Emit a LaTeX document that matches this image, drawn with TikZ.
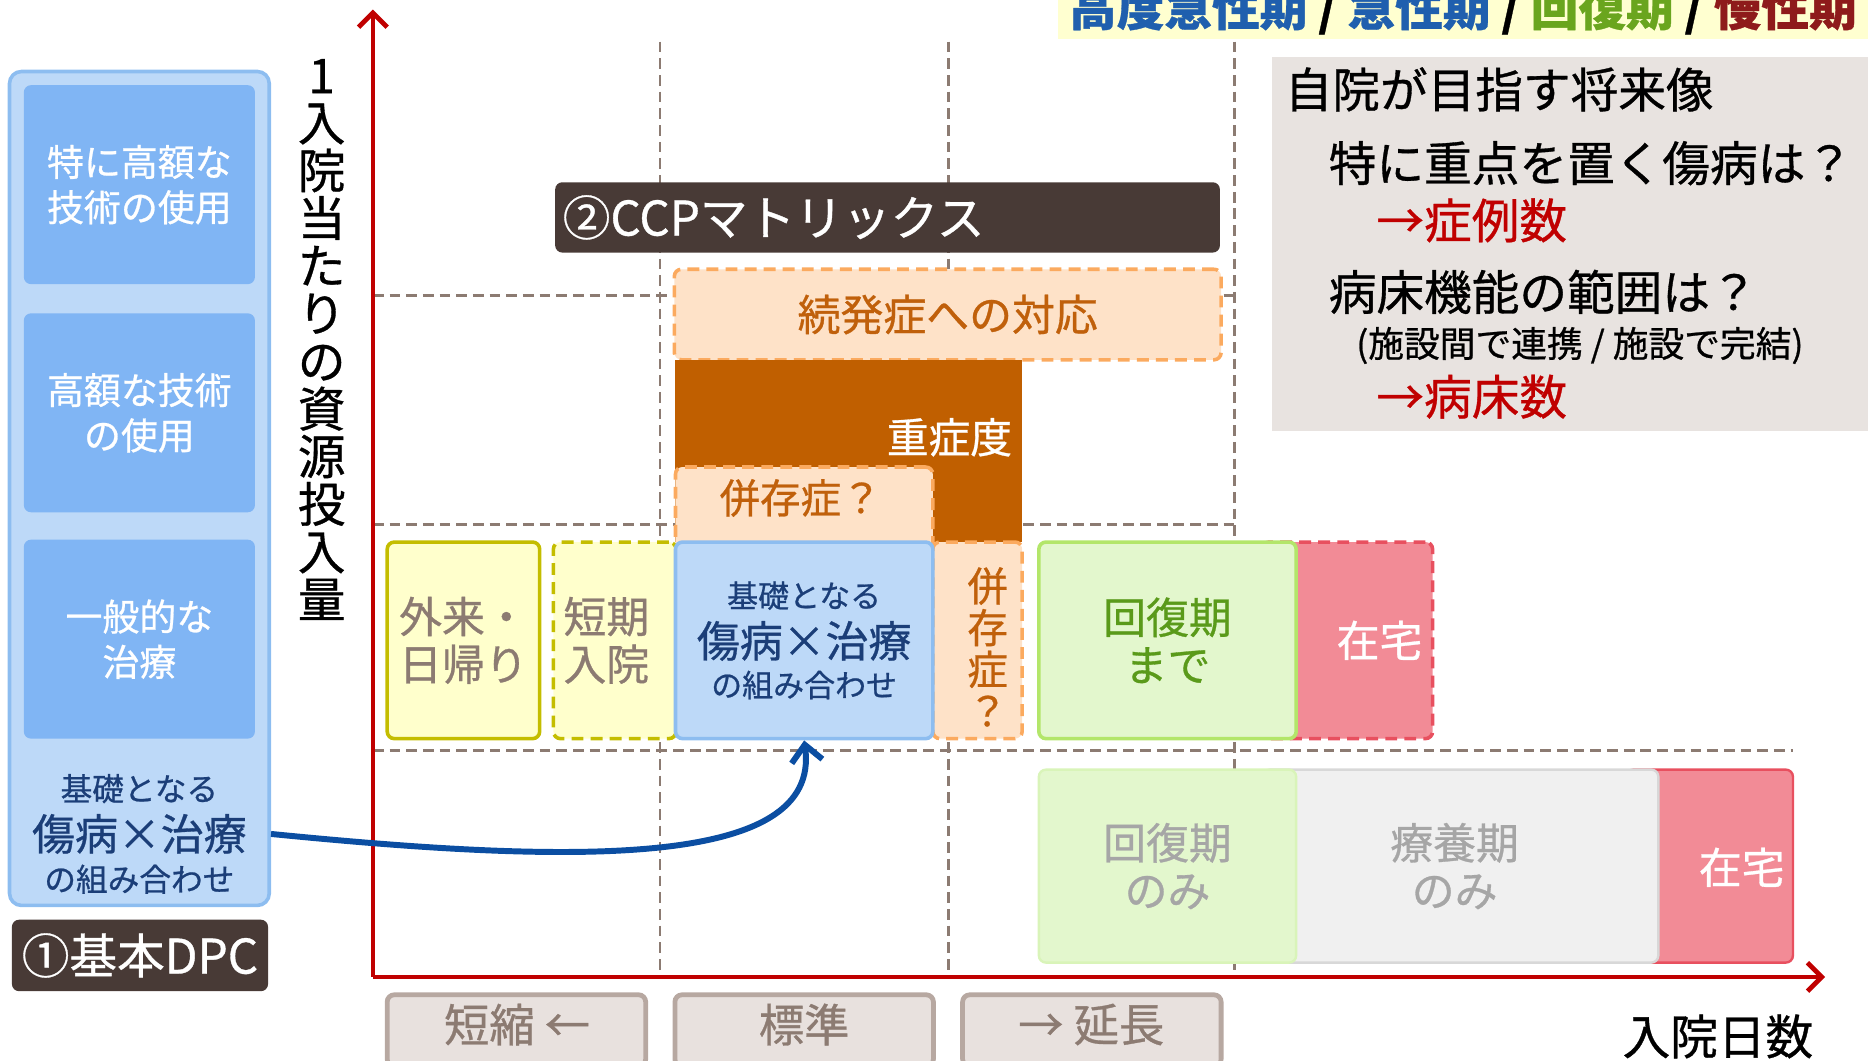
\documentclass[tikz,border=0pt]{standalone}
\usepackage{fontspec}
\setmainfont{Noto Sans CJK JP}[FakeBold=0.7]
\usepackage{xcolor}
\usetikzlibrary{arrows.meta, positioning, calc}

\definecolor{axisred}{HTML}{C00000}
\definecolor{gridc}{HTML}{8C7B72}
\definecolor{panelfill}{HTML}{BDD9F8}
\definecolor{panelline}{HTML}{8DBDF0}
\definecolor{costfill}{HTML}{80B5F4}
\definecolor{navy}{HTML}{1B3E78}
\definecolor{darkbrown}{HTML}{483A36}
\definecolor{peach}{HTML}{FEE2C8}
\definecolor{orangeline}{HTML}{FBAA5F}
\definecolor{orangetext}{HTML}{C0600B}
\definecolor{severe}{HTML}{C05F00}
\definecolor{yellowfill}{HTML}{FFFFCC}
\definecolor{oliveline}{HTML}{C4BD00}
\definecolor{greenfill}{HTML}{E3F7CD}
\definecolor{greenline}{HTML}{B3E66A}
\definecolor{greentext}{HTML}{5A9A1A}
\definecolor{pinkfill}{HTML}{F28B96}
\definecolor{pinkline}{HTML}{E8505F}
\definecolor{grayfill}{HTML}{F0F0F0}
\definecolor{grayline}{HTML}{D8D8D8}
\definecolor{graytext}{HTML}{A6A6A6}
\definecolor{tagfill}{HTML}{E8E1DE}
\definecolor{tagline}{HTML}{B7A8A1}
\definecolor{infofill}{HTML}{E8E3E0}
\definecolor{bannerfill}{HTML}{FFFFD0}
\definecolor{phblue}{HTML}{1F5FAE}
\definecolor{phgreen}{HTML}{6AA51E}
\definecolor{phred}{HTML}{8E1B1B}
\definecolor{arrowblue}{HTML}{0B4EA2}

\begin{document}
\begin{tikzpicture}[x=0.5pt, y=-0.5pt,
  grid/.style={draw=gridc, line width=1.2pt, dash pattern=on 4.5pt off 2.5pt},
  axis/.style={draw=axisred, line width=2pt, -{Straight Barb[length=6pt,width=12pt]}},
  box/.style={rounded corners=3pt, inner sep=0pt, line width=1.5pt, align=center},
  dashbox/.style={box, dash pattern=on 5pt off 3pt},
  costbox/.style={box, fill=costfill, draw=none, minimum width=97pt, minimum height=83.5pt,
    text=white, font=\fontsize{15.5pt}{19pt}\selectfont},
  darkbox/.style={box, fill=darkbrown, draw=none, text=white},
  tagbox/.style={box, fill=tagfill, draw=tagline, line width=2pt, minimum width=108.5pt,
    minimum height=30pt},
  tagtext/.style={text=gridc, font=\fontsize{19pt}{20pt}\selectfont},
  big/.style={font=\fontsize{18pt}{20pt}\selectfont, align=center},
  info/.style={anchor=west, font=\fontsize{20pt}{20pt}\selectfont, inner sep=0pt},
]
\useasboundingbox (0,0) rectangle (1568,890);
\clip (0,0) rectangle (1568,890);

% grid
\draw[grid] (554,35) -- (554,820);
\draw[grid] (796,35) -- (796,820);
\draw[grid] (1036,35) -- (1036,820);
\draw[grid] (313,248) -- (1036,248);
\draw[grid] (313,440) -- (1036,440);
\draw[grid] (313,630) -- (1505,630);

% phase banner
\fill[bannerfill] (888,-20) rectangle (1580,33);
\node[anchor=west, inner sep=0pt, font=\bfseries\fontsize{20pt}{20pt}\selectfont] (phase) at (897,8)
  {\textcolor{phblue}{高度急性期} / \textcolor{phblue}{急性期} / \textcolor{phgreen}{回復期} / \textcolor{phred}{慢性期}};

% left panel
\node[box, fill=panelfill, draw=panelline, rounded corners=5pt, minimum width=109pt, minimum height=350pt] (dpcpanel) at (117,410) {};
\node[costbox] (costhi) at (117,155) {特に高額な\\技術の使用};
\node[costbox] (costmid) at (117,346.5) {高額な技術\\の使用};
\node[costbox] (costlow) at (117,536.5) {一般的な\\治療};
\node[text=navy, font=\fontsize{13.3pt}{14pt}\selectfont] (dpctop) at (117,662) {基礎となる};
\node[text=navy, font=\fontsize{18pt}{20pt}\selectfont] (dpcmid) at (117,700) {傷病×治療};
\node[text=navy, font=\fontsize{13.3pt}{14pt}\selectfont] (dpcbot) at (117,738) {の組み合わせ};
\node[darkbox, minimum width=107.5pt, minimum height=30pt, font=\fontsize{20pt}{20pt}\selectfont] (dpc) at (117.5,802) {①基本DPC};

% y axis label
\node[align=center, inner sep=0pt, font=\fontsize{20pt}{20pt}\selectfont] (ylabel) at (270,285)
  {1\\入\\院\\当\\た\\り\\の\\資\\源\\投\\入\\量};

% CCP matrix
\node[darkbox, minimum width=279pt, minimum height=29.5pt] (ccp) at (745,182.5) {};
\node[anchor=west, text=white, inner sep=0pt, font=\fontsize{20pt}{20pt}\selectfont] (ccplbl) at (472,182.5) {②CCPマトリックス};

\node[dashbox, fill=peach, draw=orangeline, minimum width=229.5pt, minimum height=38pt,
  text=orangetext, font=\fontsize{18pt}{20pt}\selectfont] (sequela) at (795.5,264) {続発症への対応};
\node[box, fill=severe, rounded corners=0pt, minimum width=145.5pt, minimum height=76.5pt] (severity) at (712.5,378.5) {};
\node[text=white, font=\fontsize{17.5pt}{20pt}\selectfont] (sevlbl) at (797,367) {重症度};
\node[dashbox, fill=peach, draw=orangeline, minimum width=108pt, minimum height=36.5pt] (comorbtop) at (675,428.5) {};
\node[text=orangetext, font=\fontsize{17pt}{20pt}\selectfont] (comorblbl) at (672,418) {併存症？};
\node[dashbox, fill=peach, draw=orangeline, minimum width=37.5pt, minimum height=82.5pt] (comorbside) at (820.5,537.5) {};
\node[align=center, inner sep=0pt, text=orangetext, font=\fontsize{17pt}{17.5pt}\selectfont] (comorbvert) at (829,543) {併\\存\\症\\？};

\node[box, fill=yellowfill, draw=oliveline, minimum width=64pt, minimum height=82.5pt,
  text=gridc, big] (outpat) at (389,537.5) {外来・\\日帰り};
\node[dashbox, fill=yellowfill, draw=oliveline, minimum width=51.5pt, minimum height=82.5pt] (short) at (516,537.5) {};
\node[text=gridc, big] (shortlbl) at (509,537.5) {短期\\入院};
\node[box, fill=panelfill, draw=panelline, minimum width=108pt, minimum height=82.5pt] (mainbox) at (675,537.5) {};
\node[text=navy, font=\fontsize{13pt}{14pt}\selectfont] (maintop) at (675,500) {基礎となる};
\node[text=navy, font=\fontsize{18pt}{20pt}\selectfont] (mainmid) at (675,538) {傷病×治療};
\node[text=navy, font=\fontsize{13pt}{14pt}\selectfont] (mainbot) at (675,575) {の組み合わせ};

\node[dashbox, fill=pinkfill, draw=pinkline, minimum width=71.5pt, minimum height=82.5pt] (home) at (1131,537.5) {};
\node[text=white, big] (homelbl) at (1158,537.5) {在宅};
\node[box, fill=greenfill, draw=greenline, minimum width=108pt, minimum height=82.5pt,
  text=greentext, big] (recov) at (980,537.5) {回復期\\まで};

\node[box, fill=pinkfill, draw=pinkline, line width=1pt, minimum width=70pt, minimum height=81pt] (homelong) at (1435,727) {};
\node[text=white, big] (homelonglbl) at (1462,728) {在宅};
\node[box, fill=grayfill, draw=grayline, line width=1pt, minimum width=166pt, minimum height=81pt] (chronic) at (1226,727) {};
\node[text=graytext, big] (chroniclbl) at (1221,727) {療養期\\のみ};
\node[box, fill=greenfill, draw=greenfill!80!greenline, line width=1pt, minimum width=108pt, minimum height=81pt,
  text=graytext, big] (recovonly) at (980,727) {回復期\\のみ};

% axes
\coordinate (O) at (313,820);
\coordinate (ytip) at (313,8);
\coordinate (xtip) at (1532,820);
\draw[axis] (O) -- (ytip);
\draw[axis] (O) -- (xtip);

% length of stay tags
\node[tagbox] (shorter) at (433.5,865) {};
\node[tagtext] (shorterlbl) at (434,860) {短縮 ←};
\node[tagbox] (standard) at (675,865) {};
\node[tagtext] (standardlbl) at (675,860) {標準};
\node[tagbox] (longer) at (916.5,865) {};
\node[tagtext] (longerlbl) at (916,860) {→ 延長};
\node[font=\fontsize{20pt}{20pt}\selectfont] (xlabel) at (1442,870) {入院日数};

% future vision
\node[box, fill=infofill, rounded corners=0pt, minimum width=256pt, minimum height=157pt] (vision) at (1324,205) {};
\node[info] (visiontitle) at (1078,75) {自院が目指す将来像};
\node[info] (focus) at (1115,137) {特に重点を置く傷病は？};
\node[info, text=axisred] (cases) at (1155,185) {→症例数};
\node[info] (beds) at (1115,245) {病床機能の範囲は？};
\node[info, font=\fontsize{15pt}{16pt}\selectfont] (bedsnote) at (1138,290) {(施設間で連携 / 施設で完結)};
\node[info, text=axisred] (bedcount) at (1155,333) {→病床数};

% link
\draw[arrowblue, line width=2.5pt, -{Straight Barb[length=7pt,width=13pt]}]
  (dpcpanel.east |- dpcmid) .. controls (480,725) and (690,730) .. (mainbox.south);
\end{tikzpicture}
\end{document}
